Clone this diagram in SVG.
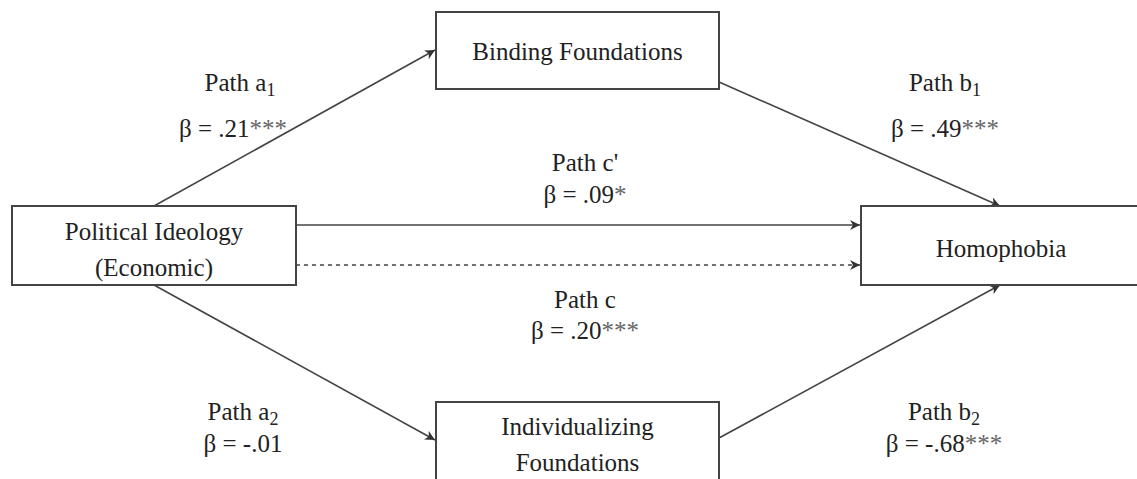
<svg xmlns="http://www.w3.org/2000/svg" width="1137" height="479" viewBox="0 0 1137 479">
<style>
.box{fill:#fff;stroke:#444;stroke-width:2}
.t{font-family:"Liberation Serif","Times New Roman",serif;font-size:25px;fill:#222;text-anchor:middle}
.ln{stroke:#444;stroke-width:1.6;fill:none}
.dash{stroke-dasharray:4 4}
.sub{font-size:18px}
.star{fill:#666}
</style>
<defs>
<marker id="arr" viewBox="0 0 10 10" refX="10" refY="5" markerWidth="10" markerHeight="10" markerUnits="userSpaceOnUse" orient="auto">
<path d="M0,0 L10,5 L0,10 L3,5 Z" fill="#333"/>
</marker>
</defs>
<rect width="1137" height="479" fill="#fff"/>
<g id="connectors">
<line class="ln" x1="154" y1="206" x2="435" y2="50" marker-end="url(#arr)"/>
<line class="ln" x1="719" y1="82" x2="1000" y2="206" marker-end="url(#arr)"/>
<line class="ln" x1="296" y1="225" x2="860" y2="225" marker-end="url(#arr)"/>
<line class="ln dash" x1="296" y1="265" x2="860" y2="265" marker-end="url(#arr)"/>
<line class="ln" x1="154" y1="285" x2="435" y2="440" marker-end="url(#arr)"/>
<line class="ln" x1="719" y1="438" x2="1000" y2="285" marker-end="url(#arr)"/>
</g>
<g id="node-political">
<rect class="box" x="12" y="206" width="284" height="79"/>
<text class="t" x="154" y="240">Political Ideology</text>
<text class="t" x="154" y="276">(Economic)</text>
</g>
<g id="node-binding">
<rect class="box" x="436" y="12" width="283" height="77"/>
<text class="t" x="577.5" y="60">Binding Foundations</text>
</g>
<g id="node-individualizing">
<rect class="box" x="436" y="402" width="283" height="90"/>
<text class="t" x="577.5" y="435">Individualizing</text>
<text class="t" x="577.5" y="471">Foundations</text>
</g>
<g id="node-homophobia">
<rect class="box" x="861" y="206" width="290" height="79"/>
<text class="t" x="1001" y="257">Homophobia</text>
</g>
<g id="labels">
<text class="t" x="240" y="91">Path a<tspan class="sub" dy="5">1</tspan></text>
<text class="t" x="233" y="137">β = .21<tspan class="star">***</tspan></text>
<text class="t" x="945" y="91">Path b<tspan class="sub" dy="5">1</tspan></text>
<text class="t" x="945" y="137">β = .49<tspan class="star">***</tspan></text>
<text class="t" x="585" y="171">Path c'</text>
<text class="t" x="585" y="203">β = .09<tspan class="star">*</tspan></text>
<text class="t" x="585" y="308">Path c</text>
<text class="t" x="585" y="339">β = .20<tspan class="star">***</tspan></text>
<text class="t" x="243" y="420">Path a<tspan class="sub" dy="5">2</tspan></text>
<text class="t" x="243" y="452">β = -.01</text>
<text class="t" x="944" y="420">Path b<tspan class="sub" dy="5">2</tspan></text>
<text class="t" x="944" y="452">β = -.68<tspan class="star">***</tspan></text>
</g>
</svg>
